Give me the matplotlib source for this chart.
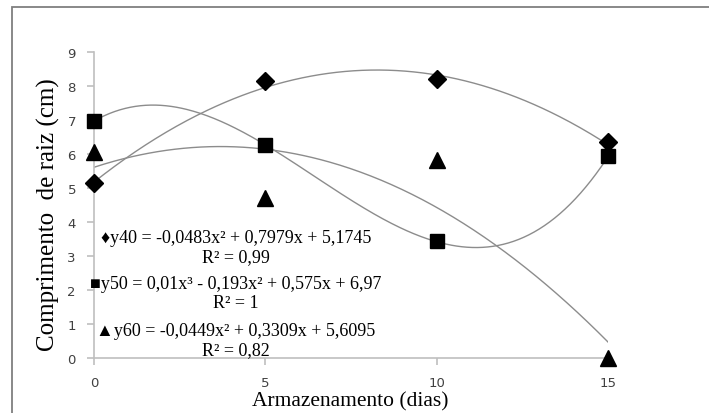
import numpy as np
import matplotlib
matplotlib.use("Agg")
import matplotlib.pyplot as plt
from matplotlib.patches import Rectangle

# Data
days = [0, 5, 10, 15]
y40 = [5.15, 8.15, 8.2, 6.35]
y50 = [6.97, 6.27, 3.44, 5.94]
y60 = [6.06, 4.7, 5.82, 0.0]

# Trendline coefficients (highest power first)
coef40 = [-0.0483, 0.7979, 5.1745]
coef50 = [0.01, -0.193, 0.575, 6.97]
coef60 = [-0.0449, 0.3309, 5.6095]

eq40 = "\u2666y40 = -0,0483x\u00b2 + 0,7979x + 5,1745\nR\u00b2 = 0,99"
eq50 = "\u25a0y50 = 0,01x\u00b3 - 0,193x\u00b2 + 0,575x + 6,97\nR\u00b2 = 1"
eq60 = "\u25b2y60 = -0,0449x\u00b2 + 0,3309x + 5,6095\nR\u00b2 = 0,82"

xticks = [0, 5, 10, 15]
yticks = [0, 1, 2, 3, 4, 5, 6, 7, 8, 9]

W, H = 709, 414
fig = plt.figure(figsize=(W / 100, H / 100), dpi=100)
fig.patch.set_facecolor("white")

# outer chart frame
fig.add_artist(Rectangle((12 / W, -0.1), 1.2, 1 - 7.5 / H + 0.1, transform=fig.transFigure,
                         fill=False, edgecolor="#7f7f7f", linewidth=1.3))

ax = fig.add_axes([94 / W, (H - 359) / H, (608 - 94) / W, (359 - 53) / H])
ax.set_xlim(0, 15)
ax.set_ylim(0, 9)

xs = np.linspace(0, 15, 300)
for c in (coef40, coef50, coef60):
    ax.plot(xs, np.polyval(c, xs), color="#8c8c8c", linewidth=1.0, zorder=2)

ax.plot(days, y40, linestyle="none", marker="D", markersize=9.5, color="black", clip_on=False, zorder=3)
ax.plot(days, y50, linestyle="none", marker="s", markersize=10.5, color="black", clip_on=False, zorder=3)
ax.plot(days, y60, linestyle="none", marker="^", markersize=11, color="black", clip_on=False, zorder=3)

for s in ("top", "right"):
    ax.spines[s].set_visible(False)
for s in ("left", "bottom"):
    ax.spines[s].set_color("#bfbfbf")
    ax.spines[s].set_linewidth(1.2)

ax.set_xticks(xticks)
ax.set_yticks(yticks)
ax.tick_params(axis="both", colors="#bfbfbf", labelcolor="#404040", labelsize=9.5,
               length=5, width=1.2, direction="out")
ax.tick_params(axis="x", pad=8)
ax.tick_params(axis="y", pad=8)

serif = ["Liberation Serif", "DejaVu Serif"]
tkw = dict(ha="center", va="center", multialignment="center", family=serif,
           fontsize=13, linespacing=1.2, transform=fig.transFigure)
fig.text(236 / W, 1 - 248 / H, eq40, **tkw)
fig.text(236 / W, 1 - 294 / H, eq50, **tkw)
fig.text(236 / W, 1 - 341 / H, eq60, **tkw)

fig.text(48 / W, 1 - 215 / H, "Comprimento  de raiz (cm)", rotation=90, ha="center", va="center",
         family=serif, fontsize=18)
fig.text(350 / W, 1 - 402 / H, "Armazenamento (dias)", ha="center", va="center",
         family=serif, fontsize=15.5)

fig.savefig("out.png", dpi=100)
